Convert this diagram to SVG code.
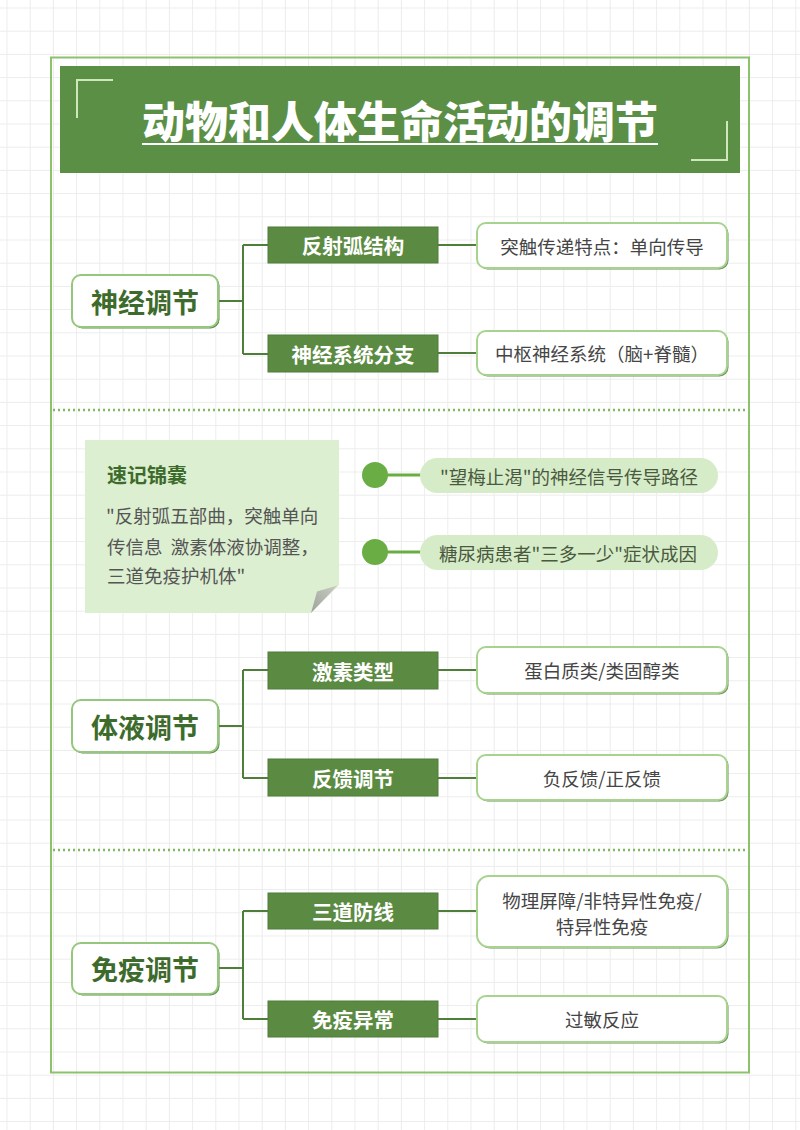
<svg xmlns="http://www.w3.org/2000/svg" width="800" height="1130" viewBox="0 0 800 1130">
<defs>
<pattern id="grid" x="6.5" y="7.5" width="23.2" height="23.2" patternUnits="userSpaceOnUse">
<path d="M0.5 0 V23.2 M0 0.5 H23.2" fill="none" stroke="#ececec" stroke-width="1"/>
</pattern>
<linearGradient id="fold" x1="0" y1="1" x2="1" y2="0">
<stop offset="0" stop-color="#9ea39a"/>
<stop offset="1" stop-color="#c9ccc5"/>
</linearGradient>
</defs>
<style>
text{font-family:"Noto Sans CJK SC","Noto Sans",sans-serif;dominant-baseline:central}
.main rect.box{fill:#ffffff;stroke:#95c77d;stroke-width:2}
.main rect.sh{fill:#5f8a4d}
.main text{font-size:27px;font-weight:700;fill:#3d6b2c;text-anchor:middle}
.sub rect{fill:#5b8b42;stroke:#4f7c38;stroke-width:1}
.sub text{font-size:20.5px;font-weight:700;fill:#ffffff;text-anchor:middle}
.leaf rect.box{fill:#ffffff;stroke:#a8d38f;stroke-width:2}
.leaf rect.sh{fill:#6f8f62}
.leaf text{font-size:18.5px;fill:#454545;text-anchor:middle}
.conn path{fill:none;stroke:#4f7d3a;stroke-width:2}
.sep{stroke:#7fba5e;stroke-width:2.5;stroke-dasharray:2 3}
.pill rect{fill:#d6ecc8}
.pill circle{fill:#6aad45}
.pill line{stroke:#6aad45;stroke-width:3}
.pill text{font-size:18.5px;fill:#4a5a3e}
.memo text{fill:#555555;font-size:18.5px;white-space:pre}
</style>
<rect x="0" y="0" width="800" height="1130" fill="#ffffff"/>
<rect x="0" y="0" width="800" height="1130" fill="url(#grid)"/>
<rect id="frame" x="51" y="57.5" width="698" height="1015" fill="none" stroke="#8dc26c" stroke-width="2"/>
<g id="title">
<rect x="60" y="66" width="680" height="107" fill="#5b8f45"/>
<path d="M77 118 V80 H113" fill="none" stroke="#cfe8bb" stroke-width="2"/>
<path d="M727 121 V160 H691" fill="none" stroke="#cfe8bb" stroke-width="2"/>
<text x="400" y="119" font-size="43" font-weight="900" fill="#ffffff" text-anchor="middle">动物和人体生命活动的调节</text>
<line x1="142" y1="144" x2="658" y2="144" stroke="#ffffff" stroke-width="2"/>
</g>
<g class="conn" id="connectors">
<path d="M218 301 H243 M243 245 V354 M243 245 H268 M243 354 H268 M438 245 H477 M438 353 H477"/>
<path d="M218 726 H243 M243 670 V778 M243 670 H268 M243 778 H268 M438 670 H477 M438 778 H477"/>
<path d="M218 968 H243 M243 911 V1019 M243 911 H268 M243 1019 H268 M438 911 H477 M438 1019 H477"/>
</g>
<line class="sep" x1="53" y1="410" x2="748" y2="410"/>
<line class="sep" x1="53" y1="850" x2="748" y2="850"/>
<g class="main" id="n-shenjing"><rect class="sh" x="73.5" y="276.5" width="146" height="52" rx="9"/><rect class="box" x="72" y="275" width="146" height="52" rx="9"/><text x="145" y="301">神经调节</text></g>
<g class="sub" id="n-fanshehu"><rect x="268" y="227" width="170" height="36"/><text x="353" y="245">反射弧结构</text></g>
<g class="sub" id="n-shenjingxitong"><rect x="268" y="335" width="170" height="37"/><text x="353" y="353.5">神经系统分支</text></g>
<g class="leaf" id="n-tuchu"><rect class="sh" x="478.5" y="224.5" width="250" height="45" rx="9"/><rect class="box" x="477" y="223" width="250" height="45" rx="9"/><text x="602" y="245.5">突触传递特点：单向传导</text></g>
<g class="leaf" id="n-zhongshu"><rect class="sh" x="478.5" y="332.5" width="250" height="44" rx="9"/><rect class="box" x="477" y="331" width="250" height="44" rx="9"/><text x="602" y="353">中枢神经系统（脑+脊髓）</text></g>
<g class="memo" id="memo">
<polygon points="85,440 339,440 339,585 311,613 85,613" fill="#dcefd0"/>
<polygon points="311,613 317,591.5 337.5,585.5" fill="url(#fold)"/>
<text x="107" y="474" style="fill:#3d6b2c;font-size:20px;font-weight:700">速记锦囊</text>
<text x="106" y="514.5">"反射弧五部曲，突触单向</text>
<text x="107" y="546" xml:space="preserve">传信息  激素体液协调整，</text>
<text x="107" y="575">三道免疫护机体"</text>
</g>
<g class="pill" id="tip-1"><line x1="385" y1="475" x2="424" y2="475"/><circle cx="375" cy="475" r="13"/><rect x="420" y="458" width="298" height="35" rx="17.5"/><text x="440" y="475.5">"望梅止渴"的神经信号传导路径</text></g>
<g class="pill" id="tip-2"><line x1="385" y1="552" x2="424" y2="552"/><circle cx="375" cy="552" r="13"/><rect x="420" y="535" width="298" height="35" rx="17.5"/><text x="439" y="552.5">糖尿病患者"三多一少"症状成因</text></g>
<g class="main" id="n-tiye"><rect class="sh" x="73.5" y="701.5" width="146" height="52" rx="9"/><rect class="box" x="72" y="700" width="146" height="52" rx="9"/><text x="145" y="726">体液调节</text></g>
<g class="sub" id="n-jisu"><rect x="268" y="652" width="170" height="37"/><text x="353" y="670.5">激素类型</text></g>
<g class="sub" id="n-fankui"><rect x="268" y="759" width="170" height="37"/><text x="353" y="777.5">反馈调节</text></g>
<g class="leaf" id="n-danbai"><rect class="sh" x="478.5" y="648.5" width="250" height="46" rx="9"/><rect class="box" x="477" y="647" width="250" height="46" rx="9"/><text x="602" y="670">蛋白质类/类固醇类</text></g>
<g class="leaf" id="n-fufankui"><rect class="sh" x="478.5" y="756.5" width="250" height="45" rx="9"/><rect class="box" x="477" y="755" width="250" height="45" rx="9"/><text x="602" y="777.5">负反馈/正反馈</text></g>
<g class="main" id="n-mianyi"><rect class="sh" x="73.5" y="944.5" width="146" height="51" rx="9"/><rect class="box" x="72" y="943" width="146" height="51" rx="9"/><text x="145" y="968">免疫调节</text></g>
<g class="sub" id="n-sandao"><rect x="268" y="893" width="170" height="36"/><text x="353" y="911">三道防线</text></g>
<g class="sub" id="n-yichang"><rect x="268" y="1001" width="170" height="36"/><text x="353" y="1019">免疫异常</text></g>
<g class="leaf" id="n-pingzhang"><rect class="sh" x="478.5" y="877.5" width="250" height="71" rx="12"/><rect class="box" x="477" y="876" width="250" height="71" rx="12"/><text x="602" y="900">物理屏障/非特异性免疫/</text><text x="602" y="926">特异性免疫</text></g>
<g class="leaf" id="n-guomin"><rect class="sh" x="478.5" y="997.5" width="250" height="46" rx="9"/><rect class="box" x="477" y="996" width="250" height="46" rx="9"/><text x="602" y="1019">过敏反应</text></g>
</svg>
